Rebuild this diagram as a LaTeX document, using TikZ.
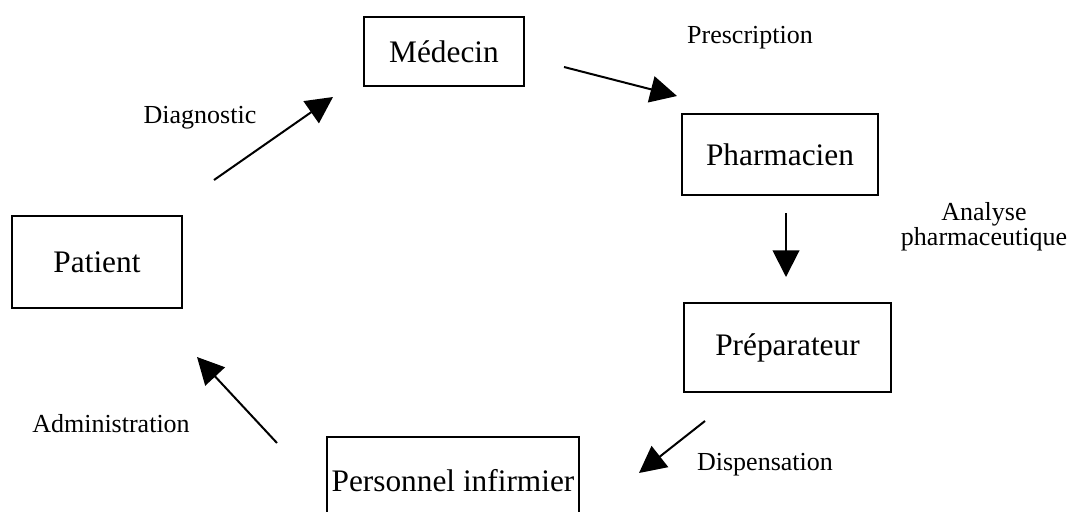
\documentclass[tikz,border=0pt]{standalone}
\usepackage{fontspec}
\setmainfont{Liberation Serif}
\usetikzlibrary{arrows.meta}
\tikzset{
  actor/.style={draw, line width=1.3pt, inner xsep=0pt, inner ysep=0pt, align=center,
    font=\fontsize{23.5}{27}\selectfont},
  flow/.style={line width=1.5pt, -{Triangle[length=20pt,width=20pt]}},
  lbl/.style={font=\fontsize{19.5}{17.3}\selectfont, align=center, inner sep=0pt}
}
\begin{document}
\begin{tikzpicture}[x=0.75pt,y=-0.75pt]
\clip (0,0) rectangle (1071,511);
\useasboundingbox (0,0) rectangle (1071,511);
% boxes
\node[actor, minimum width=120pt, minimum height=51.75pt] (med) at (444,51.5) {Médecin};
\node[actor, minimum width=147pt, minimum height=60.75pt] (pha) at (780,154.5) {Pharmacien};
\node[actor, minimum width=155.25pt, minimum height=66.75pt] (pre) at (787.5,347.5) {Préparateur};
\node[actor, minimum width=127.5pt, minimum height=69pt] (pat) at (97,262) {Patient};
\node[actor, minimum width=189pt, minimum height=66pt] (per) at (453,481) {Personnel infirmier};
% arrow ends
\coordinate (d1) at (214,180); \coordinate (d2) at (333,97);
\coordinate (p1) at (564,67);  \coordinate (p2) at (677,96);
\coordinate (a1) at (786,213); \coordinate (a2) at (786,277);
\coordinate (s1) at (705,421); \coordinate (s2) at (639,473);
\coordinate (m1) at (277,443); \coordinate (m2) at (197,357);
\draw[flow] (d1) -- (d2);
\draw[flow] (p1) -- (p2);
\draw[flow] (a1) -- (a2);
\draw[flow] (s1) -- (s2);
\draw[flow] (m1) -- (m2);
% labels
\node[lbl, anchor=base] (ldiag) at (200,123) {Diagnostic};
\node[lbl, anchor=base] (lpres) at (750,43) {Prescription};
\node[lbl, anchor=base] (lana) at (984,245) {Analyse\\pharmaceutique};
\node[lbl, anchor=base] (ldisp) at (765,470) {Dispensation};
\node[lbl, anchor=base] (ladm) at (111,432) {Administration};
\end{tikzpicture}
\end{document}
